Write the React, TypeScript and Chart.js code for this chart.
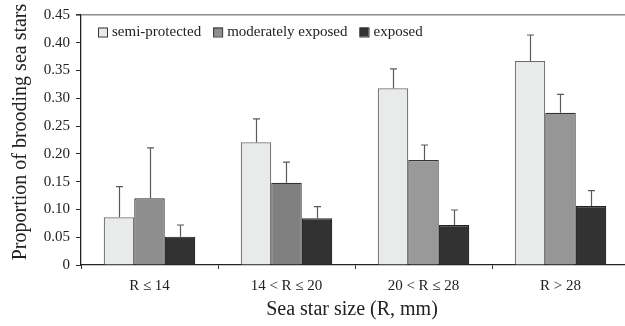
import React, { useEffect, useRef } from "react";
import { Chart, registerables } from "chart.js";

Chart.register(...registerables);

const categories = ["R \u2264 14", "14 < R \u2264 20", "20 < R \u2264 28", "R > 28"];
const seriesLabels = ["semi-protected", "moderately exposed", "exposed"];
const semiProtected = [0.086, 0.221, 0.318, 0.367];
const semiProtectedErr = [0.055, 0.042, 0.035, 0.047];
const moderatelyExposed = [0.12, 0.148, 0.189, 0.274];
const moderatelyExposedErr = [0.091, 0.037, 0.027, 0.033];
const exposed = [0.051, 0.084, 0.072, 0.106];
const exposedErr = [0.021, 0.021, 0.027, 0.028];
const yTicks = [0, 0.05, 0.1, 0.15, 0.2, 0.25, 0.3, 0.35, 0.4, 0.45];
const xTitle = "Sea star size (R, mm)";
const yTitle = "Proportion of brooding sea stars";

const FONT = "'Liberation Serif', 'Times New Roman', serif";

const errorBarPlugin = {
  id: "errorBars",
  afterDatasetsDraw(chart: any) {
    const ctx = chart.ctx;
    const yScale = chart.scales.y;
    chart.data.datasets.forEach((ds: any, di: number) => {
      const meta = chart.getDatasetMeta(di);
      const errs: number[] = ds.errors;
      meta.data.forEach((bar: any, i: number) => {
        const top = yScale.getPixelForValue(ds.data[i] + errs[i]);
        const base = bar.y;
        const x = Math.round(bar.x) + 0.5;
        ctx.save();
        ctx.strokeStyle = "#5a5a5a";
        ctx.lineWidth = 1.2;
        ctx.beginPath();
        ctx.moveTo(x, base);
        ctx.lineTo(x, top);
        ctx.moveTo(x - 3.5, top);
        ctx.lineTo(x + 3.5, top);
        ctx.stroke();
        ctx.restore();
      });
    });
  },
};

const decorPlugin = {
  id: "decor",
  afterDraw(chart: any) {
    const ctx = chart.ctx;
    const area = chart.chartArea;
    ctx.save();
    // legend
    ctx.font = `15px ${FONT}`;
    ctx.textBaseline = "middle";
    ctx.textAlign = "left";
    let x = 98;
    const yMid = 32;
    chart.data.datasets.forEach((ds: any) => {
      const fill = Array.isArray(ds.backgroundColor) ? ds.backgroundColor[0] : ds.backgroundColor;
      ctx.fillStyle = fill;
      ctx.fillRect(x, yMid - 4.5, 9, 9);
      ctx.strokeStyle = "#333";
      ctx.lineWidth = 1;
      ctx.strokeRect(x + 0.5, yMid - 4.5 + 0.5, 9, 9);
      ctx.fillStyle = "#222";
      ctx.fillText(ds.label, x + 14, yMid);
      x += 14 + ctx.measureText(ds.label).width + 12;
    });
    // titles
    ctx.font = `20px ${FONT}`;
    ctx.fillStyle = "#222";
    ctx.textAlign = "center";
    ctx.textBaseline = "middle";
    ctx.fillText(xTitle, (area.left + area.right) / 2 - 3, 310);
    ctx.translate(21, 132);
    ctx.rotate(-Math.PI / 2);
    ctx.fillText(yTitle, 0, 0);
    ctx.restore();
  },
};

export default function App() {
  const canvasRef = useRef<HTMLCanvasElement | null>(null);

  useEffect(() => {
    document.documentElement.style.overflow = "hidden";
    document.body.style.overflow = "hidden";
    const canvas = canvasRef.current;
    if (!canvas) return;
    const chart = new Chart(canvas, {
      type: "bar",
      data: {
        labels: categories,
        datasets: [
          {
            label: seriesLabels[0],
            data: semiProtected,
            errors: semiProtectedErr,
            backgroundColor: "#e9ebea",
            borderColor: "#6e6e6e",
            borderWidth: 1.2,
          } as any,
          {
            label: seriesLabels[1],
            data: moderatelyExposed,
            errors: moderatelyExposedErr,
            backgroundColor: ["#8e8e8e", "#808080", "#999999", "#969696"],
            borderColor: "#333333",
            borderWidth: 1.2,
          } as any,
          {
            label: seriesLabels[2],
            data: exposed,
            errors: exposedErr,
            backgroundColor: "#323232",
            borderColor: "#222222",
            borderWidth: 1.2,
          } as any,
        ],
      },
      options: {
        animation: false,
        responsive: false,
        maintainAspectRatio: false,
        devicePixelRatio: 1,
        layout: { padding: { top: 14, right: 1, left: 0, bottom: 0 } },
        plugins: {
          legend: { display: false },
          tooltip: { enabled: false },
        },
        datasets: {
          bar: { barPercentage: 1, categoryPercentage: 0.668 },
        },
        scales: {
          x: {
            grid: {
              display: true,
              drawOnChartArea: false,
              offset: true,
              tickLength: 4,
              tickColor: "#333",
            },
            border: { color: "#222", width: 1.3 },
            ticks: {
              color: "#222",
              font: { family: FONT, size: 15 },
              padding: 8,
              maxRotation: 0,
            },
            afterFit(scale: any) {
              scale.height = 61;
            },
          },
          y: {
            min: 0,
            max: 0.45,
            afterBuildTicks(scale: any) {
              scale.ticks = yTicks.map((v) => ({ value: v }));
            },
            grid: {
              display: true,
              drawOnChartArea: true,
              tickLength: 5,
              tickColor: "#333",
              color: (c: any) =>
                c.tick && Math.abs(c.tick.value - 0.45) < 1e-9 ? "#8a8a8a" : "rgba(0,0,0,0)",
              lineWidth: (c: any) =>
                c.tick && Math.abs(c.tick.value - 0.45) < 1e-9 ? 1.6 : 1,
            },
            border: { color: "#222", width: 1.3 },
            ticks: {
              color: "#222",
              font: { family: FONT, size: 15 },
              padding: 6,
              callback: (v: any) => (Number(v) === 0 ? "0" : Number(v).toFixed(2)),
            },
            afterFit(scale: any) {
              scale.width = 81;
            },
          },
        },
      } as any,
      plugins: [errorBarPlugin, decorPlugin],
    });
    return () => chart.destroy();
  }, []);

  return (
    <div style={{ position: "fixed", left: 0, top: 0, width: 630, height: 326, background: "#fff" }}>
      <canvas ref={canvasRef} width={630} height={326} style={{ width: 630, height: 326, display: "block" }} />
    </div>
  );
}
